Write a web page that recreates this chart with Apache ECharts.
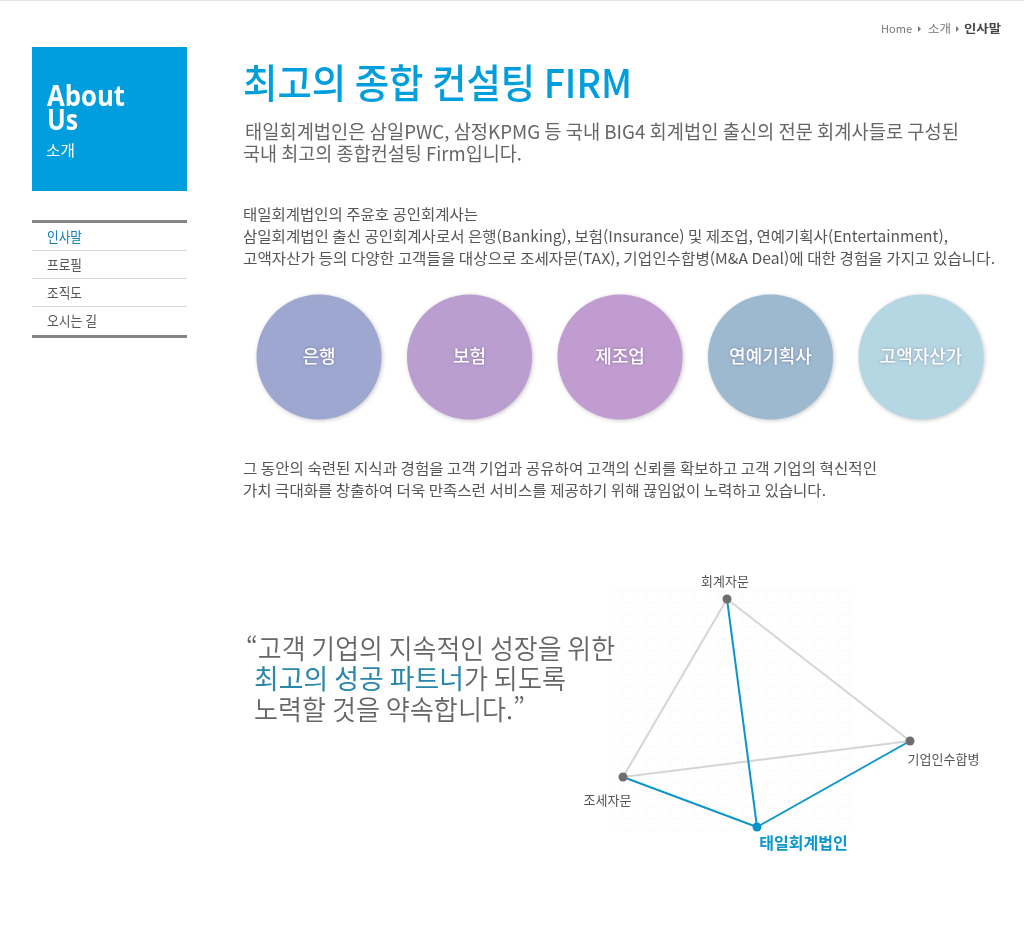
<!DOCTYPE html>
<html lang="ko"><head><meta charset="utf-8"><title>인사말</title>
<style>html,body{margin:0;padding:0;background:#fff}#c{width:1024px;height:929px}</style>
<script src="https://cdn.jsdelivr.net/npm/echarts@6/dist/echarts.min.js"></script>
</head><body><div id="c"></div>
<script>
// ---- data ----
const clientCategories = ['은행','보험','제조업','연예기획사','고액자산가'];
const clientValues = [1,1,1,1,1];
const nodeNames = ['회계자문','기업인수합병','조세자문','태일회계법인'];
const nodeX = [157,340,53,187];
const nodeY = [29,171,207,257];
const grayEdges = [[0,1],[0,2],[2,1]];
const blueEdges = [[3,0],[3,1],[3,2]];
const menuItems = ['인사말','프로필','조직도','오시는 길'];
const heading = '최고의 종합 컨설팅 FIRM';
const subLines = ['태일회계법인은 삼일PWC, 삼정KPMG 등 국내 BIG4 회계법인 출신의 전문 회계사들로 구성된','국내 최고의 종합컨설팅 Firm입니다.'];
const paraLines = ['태일회계법인의 주윤호 공인회계사는','삼일회계법인 출신 공인회계사로서 은행(Banking), 보험(Insurance) 및 제조업, 연예기획사(Entertainment),','고액자산가 등의 다양한 고객들을 대상으로 조세자문(TAX), 기업인수합병(M&A Deal)에 대한 경험을 가지고 있습니다.'];
const paraLines2 = ['그 동안의 숙련된 지식과 경험을 고객 기업과 공유하여 고객의 신뢰를 확보하고 고객 기업의 혁신적인','가치 극대화를 창출하여 더욱 만족스런 서비스를 제공하기 위해 끊임없이 노력하고 있습니다.'];
const quoteLines = ['“고객 기업의 지속적인 성장을 위한','최고의 성공 파트너','가 되도록','노력할 것을 약속합니다.”'];
const crumbs = ['Home','소개','인사말'];
const sideTitle = ['About','Us','소개'];

// ---- style ----
const FF = '"Noto Sans CJK KR","Noto Sans",sans-serif';
const LATIN = '"Open Sans","Noto Sans",sans-serif';
const circleColors = ['#9DA7D0','#BA9ED0','#C19CD0','#9DB9D0','#B5D6E3'];
const nodeColors = ['#6E6E6E','#6E6E6E','#6E6E6E','#0A93C9'];
const labelOffsets = [[-2,-18],[33.5,18],[-15.5,23],[46.5,16]];
const BLUE = '#009EDD';

const mc = document.createElement('canvas').getContext('2d');
function fit(text, x0, x1, yc, size, fill, weight, family) {
  const font = (weight||400)+' '+size+'px '+(family||FF);
  mc.font = font;
  const w = mc.measureText(text).width;
  return {type:'text', x:x0, y:yc, scaleX:(x1-x0)/w, z:10, silent:true,
    style:{text, x:0, y:0, font, fill, textAlign:'left', textVerticalAlign:'middle'}};
}
function rect(x,y,w,h,fill){return {type:'rect',shape:{x,y,width:w,height:h},style:{fill},silent:true,z:1};}
function tri(x,y){return {type:'polygon',shape:{points:[[x,y-3],[x+3,y],[x,y+3]]},style:{fill:'#777'},silent:true,z:1};}

const graphics = [
  rect(0,0,1024,1,'#e2e2e2'),
  rect(32,47,155,144,BLUE),
  rect(32,220,155,3,'#858585'),
  rect(32,250,155,1,'#d9d9d9'),
  rect(32,278,155,1,'#d9d9d9'),
  rect(32,306,155,1,'#d9d9d9'),
  rect(32,335,155,3,'#858585'),
  tri(918,29), tri(956,29),
  fit(crumbs[0],881,912,29,11,'#777'),
  fit(crumbs[1],928,951,29,11,'#777'),
  fit(crumbs[2],964,1001,29,11,'#444',700),
  fit(sideTitle[0],47,125,98,29,'#fff',700,LATIN),
  fit(sideTitle[1],47,78,122,29,'#fff',700,LATIN),
  fit(sideTitle[2],46,75,150,15,'#fff'),
  fit(menuItems[0],47,82,237,14,'#1582B5'),
  fit(menuItems[1],47,82,265,14,'#555'),
  fit(menuItems[2],47,82,293,14,'#555'),
  fit(menuItems[3],47,97,321,14,'#555'),
  fit(heading,243,632,83,40,BLUE,500),
  fit(subLines[0],245,959,132,19,'#666'),
  fit(subLines[1],243,522,154,19,'#666'),
  fit(paraLines[0],243,478,214,15,'#555'),
  fit(paraLines[1],243,948,236,15,'#555'),
  fit(paraLines[2],243,995,258,15,'#555'),
  fit(paraLines2[0],243,877,468,15,'#555'),
  fit(paraLines2[1],243,826,490,15,'#555'),
  fit(quoteLines[0],246,615,649,27,'#666',350),
  fit(quoteLines[1],254,464,679,27,'#2A86AB',400),
  fit(quoteLines[2],464,566,679,27,'#666',350),
  fit(quoteLines[3],254,522,710,27,'#666',350)
];

const edge = (e,color)=>({source:e[0],target:e[1],lineStyle:{color,width:2,opacity:1,curveness:0}});
const faint = {show:true,lineStyle:{color:'#FBFBFB',width:1}};
const off = {axisLine:{show:false},axisTick:{show:false},axisLabel:{show:false}};
const chart = echarts.init(document.getElementById('c'),null,{renderer:'canvas',width:1024,height:929});
chart.setOption({
  animation:false,
  backgroundColor:'#fff',
  graphic:{elements:graphics},
  grid:[
    {left:243.75,top:294.5,width:752.5,height:125},
    {left:570,top:570,width:400,height:290},
    {left:610,top:590,width:240,height:240}
  ],
  xAxis:[
    {gridIndex:0,type:'category',data:clientCategories,show:false,boundaryGap:true},
    {gridIndex:1,type:'value',min:0,max:400,show:false},
    {gridIndex:2,type:'value',min:0,max:240,interval:12,...off,splitLine:faint}
  ],
  yAxis:[
    {gridIndex:0,type:'value',min:0,max:2,show:false},
    {gridIndex:1,type:'value',min:0,max:290,inverse:true,show:false},
    {gridIndex:2,type:'value',min:0,max:240,interval:12,...off,splitLine:faint}
  ],
  series:[
    {type:'scatter',xAxisIndex:0,yAxisIndex:0,symbol:'circle',symbolSize:125,silent:true,
     data:clientValues.map((v,i)=>({value:[i,v],name:clientCategories[i],
       itemStyle:{color:circleColors[i],opacity:1,shadowColor:'rgba(0,0,0,0.22)',shadowBlur:4,shadowOffsetX:1,shadowOffsetY:1}})),
     label:{show:true,position:'inside',offset:[0,-1],formatter:p=>p.name,color:'#fff',fontSize:18,fontWeight:500,fontFamily:FF,
       textShadowColor:'rgba(70,60,110,0.45)',textShadowBlur:3}},
    {type:'graph',coordinateSystem:'cartesian2d',xAxisIndex:1,yAxisIndex:1,layout:'none',silent:true,
     symbol:'circle',symbolSize:9,
     edgeSymbol:['none','none'],
     data:nodeNames.map((n,i)=>({name:n,value:[nodeX[i],nodeY[i]],
       itemStyle:{color:nodeColors[i]},
       label:{show:true,position:'inside',offset:labelOffsets[i],fontFamily:FF,
         color:i===3?'#0A96CE':'#555',fontSize:i===3?16:13,fontWeight:i===3?700:400}})),
     links:grayEdges.map(e=>edge(e,'#D5D5D5')).concat(blueEdges.map(e=>edge(e,'#0F95CC')))}
  ]
});
</script></body></html>
